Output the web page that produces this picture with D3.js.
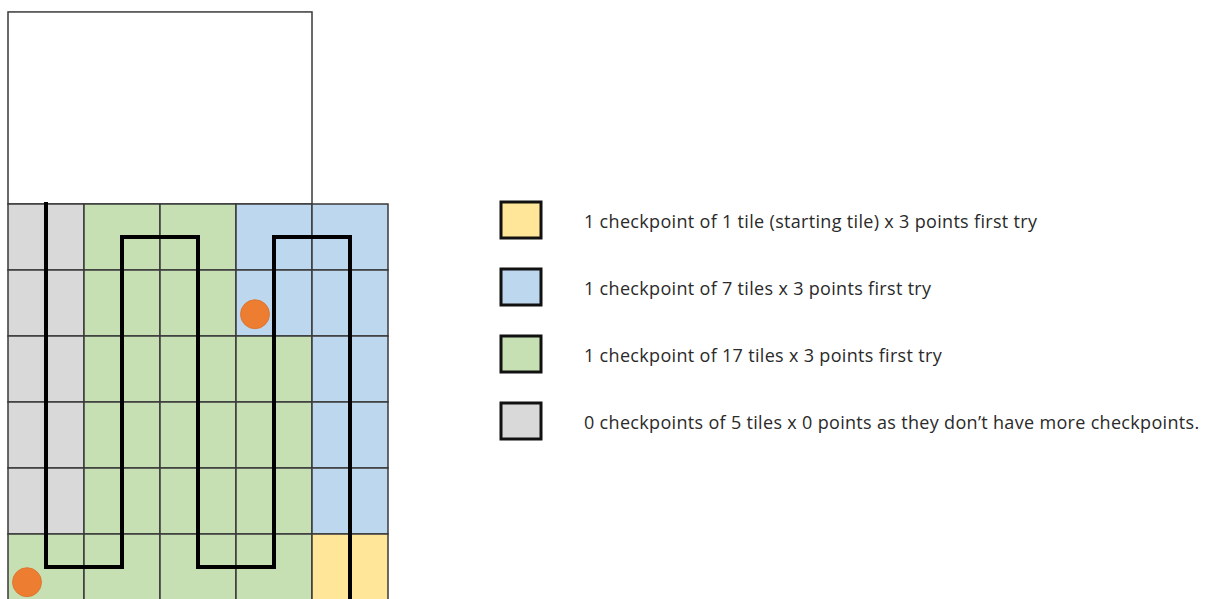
<!DOCTYPE html>
<html><head><meta charset="utf-8">
<script src="https://cdn.jsdelivr.net/npm/d3@7"></script>
<style>html,body{margin:0;padding:0;background:#fff;}svg{display:block;}</style>
</head><body>
<script>
// ---- data ----
const tileKinds = ["start", "seven", "seventeen", "none"];
const kindColors = ["#FFE699", "#BDD7EE", "#C6E0B4", "#D9D9D9"];
const legendLabels = [
  "1 checkpoint of 1 tile (starting tile) x 3 points first try",
  "1 checkpoint of 7 tiles x 3 points first try",
  "1 checkpoint of 17 tiles x 3 points first try",
  "0 checkpoints of 5 tiles x 0 points as they don\u2019t have more checkpoints."
];
// grid rows (top to bottom), 5 tiles each
const gridRows = [
  ["none", "seventeen", "seventeen", "seven", "seven"],
  ["none", "seventeen", "seventeen", "seven", "seven"],
  ["none", "seventeen", "seventeen", "seventeen", "seven"],
  ["none", "seventeen", "seventeen", "seventeen", "seven"],
  ["none", "seventeen", "seventeen", "seventeen", "seven"],
  ["seventeen", "seventeen", "seventeen", "seventeen", "start"]
];
// robot path in tile units [col, row]
const pathPoints = [[0.5,0],[0.5,5.5],[1.5,5.5],[1.5,0.5],[2.5,0.5],[2.5,5.5],[3.5,5.5],[3.5,0.5],[4.5,0.5],[4.5,6]];
// markers in tile units
const markers = [[3.25,1.67],[0.25,5.73]];
// empty area above grid [col0,row0,col1,row1]
const topArea = [0, -2.91, 4, 0];

// ---- drawing ----
const W = 1209, H = 599;
const svg = d3.select("body").append("svg").attr("width", W).attr("height", H);
const nCols = 5, nRows = gridRows.length;
const x = d3.scaleLinear().domain([0, nCols]).range([8, 388]);
const y = d3.scaleLinear().domain([0, nRows]).range([204, 600]);
const color = d3.scaleOrdinal().domain(tileKinds).range(kindColors);

const cells = [];
gridRows.forEach((r, ri) => r.forEach((k, ci) => cells.push({r: ri, c: ci, k})));

svg.append("rect")
  .attr("x", x(topArea[0])).attr("y", y(topArea[1]))
  .attr("width", x(topArea[2]) - x(topArea[0])).attr("height", y(topArea[3]) - y(topArea[1]))
  .attr("fill", "#fff").attr("stroke", "#3a3a3a").attr("stroke-width", 1.5);

svg.append("g").selectAll("rect").data(cells).join("rect")
  .attr("x", d => x(d.c)).attr("y", d => y(d.r))
  .attr("width", x(1) - x(0)).attr("height", y(1) - y(0))
  .attr("fill", d => color(d.k))
  .attr("stroke", "#3a3a3a").attr("stroke-width", 1.5);

const line = d3.line().x(d => x(d[0])).y(d => y(d[1]));
svg.append("path").datum(pathPoints)
  .attr("d", line).attr("fill", "none")
  .attr("stroke", "#000").attr("stroke-width", 4).attr("stroke-linejoin", "miter").attr("stroke-linecap", "square");

svg.append("g").selectAll("circle").data(markers).join("circle")
  .attr("cx", d => x(d[0])).attr("cy", d => y(d[1])).attr("r", 14.5)
  .attr("fill", "#ED7D31").attr("stroke", "#d9702a").attr("stroke-width", 0.8);

// legend
const ly = d3.scaleBand().domain(d3.range(tileKinds.length)).range([186, 454]);
const lg = svg.append("g").selectAll("g").data(tileKinds).join("g")
  .attr("transform", (d, i) => `translate(0,${ly(i) + ly.bandwidth()/2})`);
lg.append("rect").attr("x", 501).attr("y", -17.5).attr("width", 40).attr("height", 36)
  .attr("fill", d => color(d)).attr("stroke", "#111").attr("stroke-width", 3);
lg.append("text").attr("x", 584).attr("y", 8)
  .attr("font-family", "'Open Sans', Lato, sans-serif").attr("font-size", 18)
  .attr("letter-spacing", 0.32).attr("fill", "#2a2a2a")
  .text((d, i) => legendLabels[i]);
</script>
</body></html>
